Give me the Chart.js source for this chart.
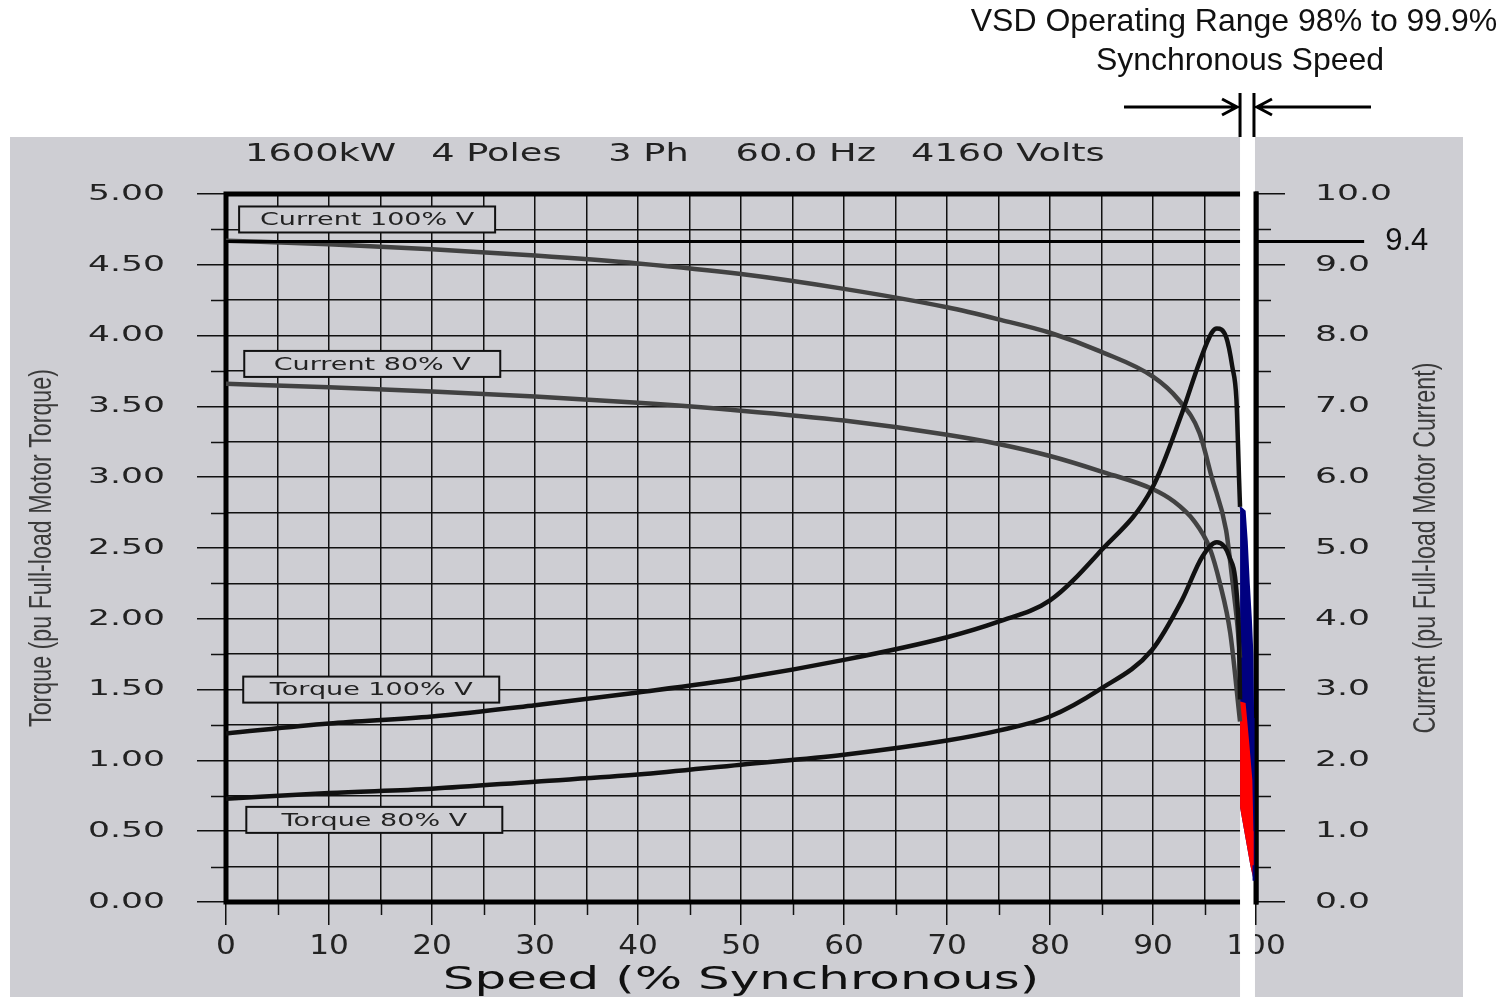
<!DOCTYPE html>
<html><head><meta charset="utf-8">
<script src="https://cdn.jsdelivr.net/npm/chart.js@4.4.1/dist/chart.umd.min.js"></script>
<style>html,body{margin:0;padding:0;background:#fff;}#wrap{width:1504px;height:997px;position:relative;}</style>
</head><body><div id="wrap"><canvas id="c"></canvas></div>
<script>
// ---------------- data ----------------
const speedCurrent100 = [0,10,20,30,40,50,60,70,75,80,85,90,92.5,94.5,95.7,97.1,97.5,97.9,98.2,98.45];
const current100      = [9.34,9.29,9.22,9.13,9.02,8.87,8.66,8.40,8.23,8.04,7.77,7.42,7.09,6.63,6.00,5.25,4.80,4.30,3.90,3.45];
const speedCurrent80  = [0,10,20,30,40,50,60,70,75,80,85,90,92,94,95.5,96.5,97.5,98.45];
const current80       = [7.32,7.27,7.21,7.14,7.05,6.94,6.80,6.60,6.47,6.30,6.08,5.83,5.66,5.38,5.00,4.50,3.80,2.55];
const speedTorque100  = [0,10,20,30,40,50,60,70,75,80,84.8,89.9,92.8,94.5,95.7,96.2,97.1,97.7,98.1,98.25,98.35,98.45];
const torque100       = [1.19,1.26,1.31,1.39,1.48,1.58,1.71,1.87,1.98,2.13,2.47,2.92,3.45,3.81,4.02,4.05,3.99,3.78,3.55,3.24,3.00,2.79];
const speedTorque80   = [0,10,20,30,40,50,60,70,75,80,84.8,89.9,92.8,94.8,96.2,97.4,98.1,98.35,98.45];
const torque80        = [0.73,0.77,0.80,0.85,0.90,0.97,1.04,1.14,1.21,1.31,1.50,1.78,2.13,2.44,2.54,2.44,2.20,1.85,1.43];
// VSD operating range portion
const speedVsd100   = [98.45,98.9,99.1,99.3,99.5,99.65,99.72,99.75,99.78];
const torqueVsd100  = [2.79,2.76,2.55,2.25,2.00,1.75,1.30,0.85,0.15];
const speedVsd80    = [98.45,98.9,99.25,99.55,99.65,99.68];
const torqueVsd80   = [1.41,1.40,1.12,0.86,0.50,0.26];
const speedVsdFloor = [98.45,99.45,99.78];
const torqueVsdFloor= [0.67,0.26,0.15];
const vsdRange = [98.45, 99.9];
const lockedRotorCurrent = 9.33;
const lockedRotorLineEnd = 110.5;
const lockedRotorLabel = '9.4';
// tick setup
const speedTicks = {min:0, max:100, step:5, labelEvery:10};
const torqueTicks = {min:0, max:5, step:0.25, labelEvery:0.5};
const currentTicks = {min:0, max:10, step:0.5, labelEvery:1};
const headerText = '1600kW   4 Poles    3 Ph    60.0 Hz   4160 Volts';
const vsdText1 = 'VSD Operating Range 98% to 99.9%';
const vsdText2 = 'Synchronous Speed';
const seriesLabels = [
  {text:'Current 100% V', x:13.7, y:4.82},
  {text:'Current 80% V',  x:14.2, y:3.80},
  {text:'Torque 100% V',  x:14.1, y:1.50},
  {text:'Torque 80% V',   x:14.4, y:0.58}
];

// ---------------- helpers ----------------
const pts = (xs, ys) => xs.map((v,i)=>({x:v, y:ys[i]}));
const BG = 'rgb(206,206,211)';
// horizontal scale factors per "family|size" to mimic the stretched / condensed lettering
const STRETCH = {'DejaVu Sans|18':1.5, 'DejaVu Sans|22':1.57, 'DejaVu Sans|25':1.47, 'DejaVu Sans|26':1.2, 'DejaVu Sans|32':1.56, 'Liberation Sans|31':0.75};
function patchCtx(ctx){
  const nat = CanvasRenderingContext2D.prototype.fillText;
  ctx.fillText = function(text, x, y, maxWidth){
    const m = this.font.match(/(\d+(?:\.\d+)?)px\s+(.+)$/);
    let k = 1;
    if (m) {
      const fam = m[2].split(',')[0].replace(/["']/g,'').trim();
      k = STRETCH[fam + '|' + Math.round(+m[1])] || 1;
    }
    if (k !== 1) {
      this.save(); this.translate(x, y); this.scale(k, 1);
      nat.call(this, text, 0, 0);
      this.restore(); return;
    }
    if (maxWidth === undefined) nat.call(this, text, x, y); else nat.call(this, text, x, y, maxWidth);
  };
}
const near = (v, step) => Math.abs(v/step - Math.round(v/step)) < 1e-6;

const decor = {
  id:'decor',
  beforeInit(chart){ patchCtx(chart.ctx); },
  beforeDraw(chart){
    const ctx = chart.ctx;
    ctx.save();
    ctx.fillStyle = '#fff'; ctx.fillRect(0,0,chart.width,chart.height);
    ctx.fillStyle = BG; ctx.fillRect(10,137,1453,chart.height-137);
    ctx.restore();
  },
  beforeDatasetsDraw(chart){
    const {ctx, chartArea:ca, scales:{x,y,y1}} = chart;
    ctx.save();
    // minor tick marks
    ctx.strokeStyle = '#111'; ctx.lineWidth = 1.5; ctx.beginPath();
    x.ticks.forEach(t=>{ if(!near(t.value, speedTicks.labelEvery)){ const p = Math.round(x.getPixelForValue(t.value))+0.5; ctx.moveTo(p, x.top); ctx.lineTo(p, x.top+13);} });
    y.ticks.forEach(t=>{ if(!near(t.value, torqueTicks.labelEvery)){ const p = Math.round(y.getPixelForValue(t.value))+0.5; ctx.moveTo(y.right-15, p); ctx.lineTo(y.right, p);} });
    y1.ticks.forEach(t=>{ if(!near(t.value, currentTicks.labelEvery)){ const p = Math.round(y1.getPixelForValue(t.value))+0.5; ctx.moveTo(y1.left, p); ctx.lineTo(y1.left+15, p);} });
    ctx.stroke();
    // series label boxes
    ctx.font = '18px DejaVu Sans'; ctx.textAlign='center'; ctx.textBaseline='middle';
    seriesLabels.forEach(l=>{
      const cx = x.getPixelForValue(l.x), cy = y.getPixelForValue(l.y);
      ctx.fillStyle = BG; ctx.fillRect(cx-128, cy-13, 256, 26);
      ctx.strokeStyle = '#111'; ctx.lineWidth = 2; ctx.strokeRect(cx-128, cy-13, 256, 26);
      ctx.fillStyle = '#222'; ctx.fillText(l.text, cx, cy+1);
    });
    // frame
    ctx.strokeStyle = '#000'; ctx.lineWidth = 5;
    ctx.strokeRect(ca.left, ca.top, ca.right-ca.left, ca.bottom-ca.top);
    // VSD strip
    const s0 = x.getPixelForValue(vsdRange[0]), s1 = x.getPixelForValue(vsdRange[1]);
    ctx.fillStyle = '#fff'; ctx.fillRect(s0, 137, s1-s0, chart.height-137);
    // right frame on top of strip
    ctx.beginPath(); ctx.moveTo(ca.right, ca.top-2.5); ctx.lineTo(ca.right, ca.bottom+2.5); ctx.stroke();
    ctx.restore();
  },
  afterDraw(chart){
    const {ctx, chartArea:ca, scales:{x,y,y1}} = chart;
    ctx.save();
    // header
    ctx.fillStyle = '#222'; ctx.font = '25px DejaVu Sans'; ctx.textAlign='left'; ctx.textBaseline='middle';
    ctx.fillText(headerText, ca.left+19, 154);
    // VSD annotation
    const s0 = x.getPixelForValue(vsdRange[0]), s1 = x.getPixelForValue(vsdRange[1]);
    ctx.fillStyle = '#111'; ctx.font = '32px "Liberation Sans"'; ctx.textAlign='center';
    ctx.fillText(vsdText1, s0-6, 22);
    ctx.fillText(vsdText2, s0, 61);
    ctx.strokeStyle = '#000'; ctx.lineWidth = 3;
    ctx.beginPath();
    ctx.moveTo(s0, 93); ctx.lineTo(s0, 137);
    ctx.moveTo(s1-1, 93); ctx.lineTo(s1-1, 137);
    ctx.moveTo(s0-116, 107); ctx.lineTo(s0-3, 107);
    ctx.moveTo(s0-18, 99); ctx.lineTo(s0-3, 107); ctx.lineTo(s0-18, 115);
    ctx.moveTo(s1+116, 107); ctx.lineTo(s1+2, 107);
    ctx.moveTo(s1+17, 99); ctx.lineTo(s1+2, 107); ctx.lineTo(s1+17, 115);
    ctx.stroke();
    // 9.4 label
    const ly = y1.getPixelForValue(lockedRotorCurrent);
    const lx = x.getPixelForValue(lockedRotorLineEnd);
    ctx.font = '31px "Liberation Sans"'; ctx.textAlign='left'; ctx.fillStyle='#111';
    CanvasRenderingContext2D.prototype.fillText.call(ctx, lockedRotorLabel, lx+21, ly);
    // right axis title (reads bottom to top)
    ctx.translate(y1.right-68, (y1.top+y1.bottom)/2);
    ctx.rotate(-Math.PI/2);
    ctx.font = '31px "Liberation Sans"';
    ctx.fillStyle = '#3a3a3a'; ctx.textAlign='center';
    ctx.fillText('Current (pu Full-load Motor Current)', 0, 0);
    ctx.restore();
  }
};

const lineBase = {pointRadius:0, cubicInterpolationMode:'monotone', fill:false};
const tickFont = (s)=>({family:'DejaVu Sans', size:s});

new Chart(document.getElementById('c'), {
  type:'line',
  data:{datasets:[
    {label:'Locked rotor current', data:[
        {x:0,y:lockedRotorCurrent},{x:vsdRange[0],y:lockedRotorCurrent},
        {x:(vsdRange[0]+vsdRange[1])/2,y:null},
        {x:vsdRange[1],y:lockedRotorCurrent},{x:lockedRotorLineEnd,y:lockedRotorCurrent}],
      yAxisID:'y1', borderColor:'#000', borderWidth:3, pointRadius:0, spanGaps:false, clip:false, order:1, tension:0},
    {label:'Torque 100% V', data:pts(speedTorque100, torque100), yAxisID:'y', borderColor:'#111', borderWidth:4.5, order:2, ...lineBase},
    {label:'Torque 80% V', data:pts(speedTorque80, torque80), yAxisID:'y', borderColor:'#111', borderWidth:4.5, order:2, ...lineBase},
    {label:'Current 100% V', data:pts(speedCurrent100, current100), yAxisID:'y1', borderColor:'#424242', borderWidth:4.5, order:3, ...lineBase},
    {label:'Current 80% V', data:pts(speedCurrent80, current80), yAxisID:'y1', borderColor:'#424242', borderWidth:4.5, order:3, ...lineBase},
    {label:'Torque 80% V (VSD range)', data:pts(speedVsd80, torqueVsd80), yAxisID:'y', borderColor:'#ff0000', backgroundColor:'#ff0000', borderWidth:2, pointRadius:0, tension:0, fill:{target:7}, order:4},
    {label:'Torque 100% V (VSD range)', data:pts(speedVsd100, torqueVsd100), yAxisID:'y', borderColor:'#000080', backgroundColor:'#000080', borderWidth:2, pointRadius:0, tension:0, fill:{target:7}, order:5},
    {label:'VSD floor', data:pts(speedVsdFloor, torqueVsdFloor), yAxisID:'y', borderColor:'rgba(0,0,0,0)', borderWidth:0, pointRadius:0, tension:0, fill:false, order:10}
  ]},
  options:{
    responsive:true, maintainAspectRatio:false, animation:false,
    layout:{padding:{left:10, right:10, top:194, bottom:0}},
    plugins:{legend:{display:false}, tooltip:{enabled:false}},
    scales:{
      x:{type:'linear', position:'bottom', min:speedTicks.min, max:speedTicks.max,
        afterFit:s=>{s.height=95;},
        ticks:{stepSize:speedTicks.step, autoSkip:false, maxRotation:0, minRotation:0, padding:7, color:'#222', font:tickFont(26),
          callback:v=> near(v, speedTicks.labelEvery) ? String(v) : ''},
        grid:{color:'#111', lineWidth:1.5, tickLength:23, tickColor:c=> (c.tick && near(c.tick.value, speedTicks.labelEvery)) ? '#111' : 'rgba(0,0,0,0)'},
        border:{display:false},
        title:{display:true, text:'Speed (% Synchronous)', color:'#111', font:{family:'DejaVu Sans', size:32, lineHeight:1}, padding:{top:0,bottom:0}}},
      y:{type:'linear', position:'left', min:torqueTicks.min, max:torqueTicks.max,
        afterFit:s=>{s.width=216;},
        ticks:{stepSize:torqueTicks.step, autoSkip:false, padding:32, color:'#222', font:tickFont(22),
          callback:v=> near(v, torqueTicks.labelEvery) ? v.toFixed(2) : ''},
        grid:{color:'#111', lineWidth:1.5, tickLength:29, tickColor:c=> (c.tick && near(c.tick.value, torqueTicks.labelEvery)) ? '#111' : 'rgba(0,0,0,0)'},
        border:{display:false},
        title:{display:true, text:'Torque (pu Full-load Motor Torque)', color:'#3a3a3a', font:{family:'Liberation Sans', size:31, lineHeight:1.2}, padding:{top:14,bottom:0}}},
      y1:{type:'linear', position:'right', min:currentTicks.min, max:currentTicks.max,
        afterFit:s=>{s.width=238;},
        ticks:{stepSize:currentTicks.step, autoSkip:false, padding:30, color:'#222', font:tickFont(22),
          callback:v=> near(v, currentTicks.labelEvery) ? v.toFixed(1) : ''},
        grid:{drawOnChartArea:false, color:'#111', lineWidth:1.5, tickLength:29, tickColor:c=> (c.tick && near(c.tick.value, currentTicks.labelEvery)) ? '#111' : 'rgba(0,0,0,0)'},
        border:{display:false},
        title:{display:false}}
    }
  },
  plugins:[decor]
});
</script></body></html>
